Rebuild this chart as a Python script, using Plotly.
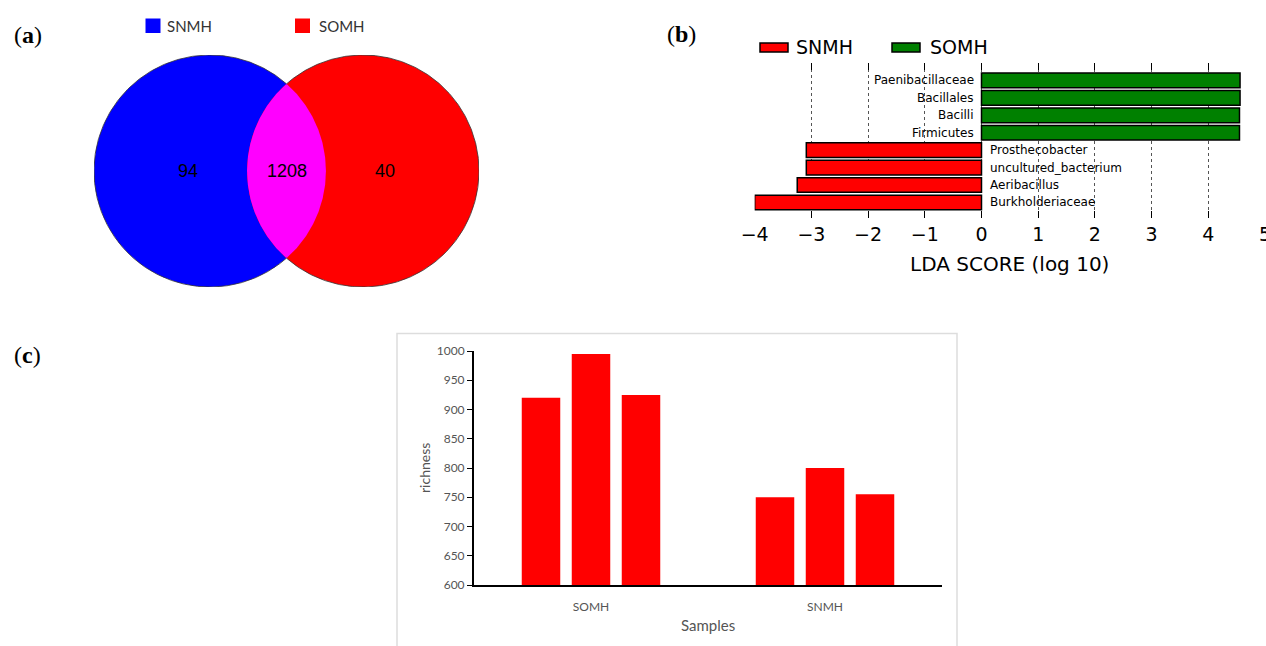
import numpy as np
import plotly.graph_objects as go

# ---------------- data ----------------
# (a) Venn diagram of OTUs
venn_sets = ["SNMH", "SOMH"]
venn_counts = [94, 1208, 40]          # SNMH only, shared, SOMH only
venn_colors = ["#0000FF", "#FF0000"]
venn_overlap_color = "#FF00FF"

# (b) LEfSe LDA scores (bottom to top)
lda_taxa = ["Burkholderiaceae", "Aeribacillus", "uncultured_bacterium", "Prosthecobacter",
            "Firmicutes", "Bacilli", "Bacillales", "Paenibacillaceae"]
lda_scores = [-4.0, -3.25, -3.09, -3.09, 4.55, 4.55, 4.56, 4.56]
lda_groups = ["SNMH", "SNMH", "SNMH", "SNMH", "SOMH", "SOMH", "SOMH", "SOMH"]
lda_group_colors = {"SNMH": "#FF0000", "SOMH": "#008000"}
lda_ticks = [-4, -3, -2, -1, 0, 1, 2, 3, 4, 5]

# (c) richness per sample group, three replicates
richness_groups = ["SOMH", "SNMH"]
richness_rep1 = [920, 750]
richness_rep2 = [995, 800]
richness_rep3 = [925, 755]
richness_ticks = [600, 650, 700, 750, 800, 850, 900, 950, 1000]

# ---------------- page geometry ----------------
W, H = 1266, 646


def px(x):
    return x / W


def py(y):
    return 1 - y / H


fig = go.Figure()

# ---------------- (a) Venn ----------------
half_d = 0.66                       # half distance between circle centres (radius = 1)
t = np.linspace(0, 2 * np.pi, 721)
for cx, col in zip([-half_d, half_d], venn_colors):
    fig.add_trace(go.Scatter(x=cx + np.cos(t), y=np.sin(t), mode="lines", fill="toself",
                             fillcolor=col, line=dict(width=0), hoverinfo="skip",
                             showlegend=False, xaxis="x3", yaxis="y3"))
alpha = np.arccos(half_d)
a1 = np.linspace(-alpha, alpha, 200)
a2 = np.linspace(np.pi - alpha, np.pi + alpha, 200)
lens_x = np.concatenate([-half_d + np.cos(a1), half_d + np.cos(a2)])
lens_y = np.concatenate([np.sin(a1), np.sin(a2)])
fig.add_trace(go.Scatter(x=lens_x, y=lens_y, mode="lines", fill="toself",
                         fillcolor=venn_overlap_color, line=dict(width=0),
                         hoverinfo="skip", showlegend=False, xaxis="x3", yaxis="y3"))
# outer outline of the union
b1 = np.linspace(alpha, 2 * np.pi - alpha, 400)
b2 = np.linspace(-(np.pi - alpha), np.pi - alpha, 400)
out_x = np.concatenate([-half_d + np.cos(b1), half_d + np.cos(b2), [-half_d + np.cos(alpha)]])
out_y = np.concatenate([np.sin(b1), np.sin(b2), [np.sin(alpha)]])
fig.add_trace(go.Scatter(x=out_x, y=out_y, mode="lines", line=dict(width=0.8, color="#333333"),
                         hoverinfo="skip", showlegend=False, xaxis="x3", yaxis="y3"))
venn_label_x = [-0.85, 0.0, 0.85]
for lx, n in zip(venn_label_x, venn_counts):
    fig.add_annotation(x=lx, y=0, xref="x3", yref="y3", text=str(n), showarrow=False,
                       xanchor="center", yanchor="middle",
                       font=dict(family="Liberation Sans", size=18, color="black"))

# legend for (a)
for (x0, tx), name, col in zip([(145.5, 165), (295, 317)], venn_sets, venn_colors):
    fig.add_shape(type="rect", xref="paper", yref="paper", x0=px(x0), x1=px(x0 + 15),
                  y0=py(33), y1=py(18.5), fillcolor=col, line=dict(width=0))
    fig.add_annotation(x=px(tx), y=py(25.5), xref="paper", yref="paper", text=name,
                       showarrow=False, xanchor="left", yanchor="middle",
                       font=dict(family="Lato", size=15, color="#333333"))

# ---------------- (b) LDA bars ----------------
for grp in ["SNMH", "SOMH"]:
    idx = [i for i, g in enumerate(lda_groups) if g == grp]
    fig.add_trace(go.Bar(x=[lda_scores[i] for i in idx], y=idx, orientation="h",
                         name=grp, width=0.84, offsetgroup="lda",
                         marker=dict(color=lda_group_colors[grp],
                                     line=dict(color="black", width=1.5)),
                         showlegend=False, xaxis="x", yaxis="y"))
for i, (taxon, score) in enumerate(zip(lda_taxa, lda_scores)):
    fig.add_annotation(x=0, y=i, xref="x", yref="y", text=taxon, showarrow=False,
                       xanchor="right" if score > 0 else "left", yanchor="middle",
                       xshift=-6 if score > 0 else 6,
                       font=dict(family="DejaVu Sans", size=12, color="black"))

# legend for (b)
for (x0, tx), name in zip([(760, 794), (892, 928)], ["SNMH", "SOMH"]):
    fig.add_shape(type="rect", xref="paper", yref="paper", x0=px(x0), x1=px(x0 + 28),
                  y0=py(52), y1=py(43), fillcolor=lda_group_colors[name],
                  line=dict(color="black", width=1.5))
    fig.add_annotation(x=px(tx), y=py(47.5), xref="paper", yref="paper", text=name,
                       showarrow=False, xanchor="left", yanchor="middle",
                       font=dict(family="DejaVu Sans", size=19, color="black"))
fig.add_annotation(x=0.5, y=py(264), xref="x", yref="paper", text="LDA SCORE (log 10)",
                   showarrow=False, xanchor="center", yanchor="middle",
                   font=dict(family="DejaVu Sans", size=20, color="black"))

# ---------------- (c) richness bars ----------------
for k, reps in enumerate([richness_rep1, richness_rep2, richness_rep3]):
    fig.add_trace(go.Bar(x=richness_groups, y=reps, name=f"rep{k + 1}",
                         marker=dict(color="#FF0000", line=dict(width=0)),
                         showlegend=False, xaxis="x2", yaxis="y2"))
fig.add_annotation(x=0.5, y=py(625), xref="x2 domain", yref="paper", text="Samples",
                   showarrow=False, xanchor="center", yanchor="middle",
                   font=dict(family="Lato", size=15, color="#555555"))
fig.add_annotation(x=px(424), y=0.5, xref="paper", yref="y2 domain", text="richness",
                   textangle=-90, showarrow=False, xanchor="center", yanchor="middle",
                   font=dict(family="Lato", size=14, color="#555555"))
fig.add_shape(type="rect", xref="paper", yref="paper", x0=px(397), x1=px(957),
              y0=-0.05, y1=py(333.5), line=dict(color="#dddddd", width=1.5),
              fillcolor="rgba(0,0,0,0)", layer="below")

# panel letters
for letter, (lx, ly) in zip("abc", [(12, 35), (665, 34), (12, 355)]):
    fig.add_annotation(x=px(lx), y=py(ly), xref="paper", yref="paper",
                       text=f"(<b>{letter}</b>)", showarrow=False,
                       xanchor="left", yanchor="middle",
                       font=dict(family="Liberation Serif", size=24, color="black"))

# ---------------- layout ----------------
fig.update_layout(
    width=W, height=H, margin=dict(l=0, r=0, t=0, b=0, autoexpand=False),
    paper_bgcolor="white", plot_bgcolor="rgba(0,0,0,0)",
    barmode="group", bargap=0.359, bargroupgap=0.23,
    xaxis=dict(domain=[px(754.7), px(1265)], range=[-4, 5], tickvals=lda_ticks,
               ticks="inside", ticklen=7, tickcolor="black", tickwidth=1, mirror="ticks",
               showline=False, zeroline=False, showgrid=True, gridcolor="#555555",
               griddash="dot", gridwidth=1, ticklabeloverflow="allow", automargin=False,
               ticklabelstandoff=3,
               tickfont=dict(family="DejaVu Sans", size=19, color="black"),
               anchor="y", fixedrange=True),
    yaxis=dict(domain=[py(218), py(63)], range=[-0.89, 8.0], visible=False,
               automargin=False, anchor="x", fixedrange=True),
    xaxis2=dict(domain=[px(474), px(942)], type="category", showline=True,
                linecolor="black", linewidth=2, ticks="", showgrid=False,
                ticklabelstandoff=10, automargin=False,
                tickfont=dict(family="Lato", size=12, color="#555555"),
                anchor="y2", fixedrange=True),
    yaxis2=dict(domain=[py(585), py(351)], range=[600, 1000], tickvals=richness_ticks,
                showline=True, linecolor="black", linewidth=2, ticks="outside",
                ticklen=5, tickcolor="black", showgrid=False, zeroline=False,
                automargin=False,
                tickfont=dict(family="Lato", size=12, color="#555555"),
                anchor="x2", fixedrange=True),
    xaxis3=dict(domain=[px(94), px(479)], range=[-1.66, 1.66], visible=False,
                automargin=False, anchor="y3", fixedrange=True),
    yaxis3=dict(domain=[py(287), py(55)], range=[-1, 1], visible=False,
                automargin=False, anchor="x3", fixedrange=True),
)

fig.write_html("out.html")
